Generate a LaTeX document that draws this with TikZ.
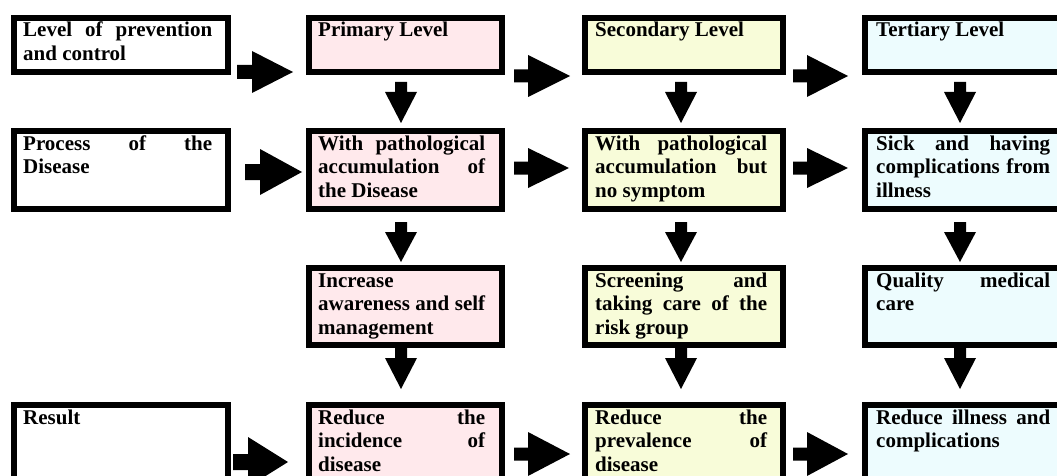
\documentclass[tikz,border=0pt]{standalone}
\usepackage{fontspec}
\setmainfont{Liberation Serif}
\usetikzlibrary{positioning}
\definecolor{pinkc}{RGB}{255,233,236}
\definecolor{yelc}{RGB}{248,252,217}
\definecolor{cyanc}{RGB}{237,252,254}
\newcommand\boxtext[2]{\vtop{\hsize=#1pt\parindent=0pt\leftskip=0pt\rightskip=0pt\parfillskip=0pt plus 1fil\tolerance=10000\hyphenpenalty=10000\exhyphenpenalty=10000\bfseries\fontsize{21}{23.5}\selectfont #2\par}}
\newcommand\harrow[6]{\fill[black] (#1,#4-#5) -- (#2,#4-#5) -- (#2,#4-#6) -- (#3,#4) -- (#2,#4+#6) -- (#2,#4+#5) -- (#1,#4+#5) -- cycle;}
\newcommand\varrow[4]{\fill[black] (#1-6,#2) -- (#1-6,#3) -- (#1-16,#3) -- (#1,#4) -- (#1+16,#3) -- (#1+6,#3) -- (#1+6,#2) -- cycle;}
\tikzset{
  boxnode/.style={draw=black, line width=6pt, rectangle, inner sep=0pt, anchor=north west},
  txtnode/.style={inner sep=0pt, anchor=base west, text=black}
}
\begin{document}
\begin{tikzpicture}[x=1pt,y=-1pt]
\useasboundingbox (0,0) rectangle (1057,476);
\clip (0,0) rectangle (1057,476);
% column 1
\node[boxnode, fill=white, minimum width=214pt, minimum height=54pt] (c1r1) at (11,15) {};
\node[boxnode, fill=white, minimum width=214pt, minimum height=78pt] (c1r2) at (11,128) {};
\node[boxnode, fill=white, minimum width=214pt, minimum height=130pt] (c1r4) at (11,402) {};
% primary
\node[boxnode, fill=pinkc, minimum width=193pt, minimum height=54pt] (p1) at (306,15) {};
\node[boxnode, fill=pinkc, minimum width=193pt, minimum height=78pt] (p2) at (306,128) {};
\node[boxnode, fill=pinkc, minimum width=193pt, minimum height=77pt] (p3) at (306,265) {};
\node[boxnode, fill=pinkc, minimum width=193pt, minimum height=130pt] (p4) at (306,402) {};
% secondary
\node[boxnode, fill=yelc, minimum width=198pt, minimum height=54pt] (s1) at (582,15) {};
\node[boxnode, fill=yelc, minimum width=198pt, minimum height=78pt] (s2) at (582,128) {};
\node[boxnode, fill=yelc, minimum width=198pt, minimum height=77pt] (s3) at (582,265) {};
\node[boxnode, fill=yelc, minimum width=198pt, minimum height=130pt] (s4) at (582,402) {};
% tertiary
\node[boxnode, fill=cyanc, minimum width=204pt, minimum height=54pt] (t1) at (862,15) {};
\node[boxnode, fill=cyanc, minimum width=204pt, minimum height=78pt] (t2) at (862,128) {};
\node[boxnode, fill=cyanc, minimum width=204pt, minimum height=77pt] (t3) at (862,265) {};
\node[boxnode, fill=cyanc, minimum width=204pt, minimum height=130pt] (t4) at (862,402) {};
% texts
\node[txtnode] (c1r1t) at (23,37) {\boxtext{189}{Level of prevention\linebreak and control}};
\node[txtnode] (c1r2t) at (23,150) {\boxtext{189}{Process of the\linebreak Disease}};
\node[txtnode] (c1r4t) at (23,424) {\boxtext{189}{Result}};
\node[txtnode] (p1t) at (318,37) {\boxtext{167}{Primary Level}};
\node[txtnode] (p2t) at (318,150) {\boxtext{167}{With pathological\linebreak accumulation of\linebreak the Disease}};
\node[txtnode] (p3t) at (318,287) {\boxtext{167}{Increase\linebreak awareness and self\linebreak management}};
\node[txtnode] (p4t) at (318,424) {\boxtext{167}{Reduce the\linebreak incidence of\linebreak disease}};
\node[txtnode] (s1t) at (595,37) {\boxtext{172}{Secondary Level}};
\node[txtnode] (s2t) at (595,150) {\boxtext{172}{With pathological\linebreak accumulation but\linebreak no symptom}};
\node[txtnode] (s3t) at (595,287) {\boxtext{172}{Screening and\linebreak taking care of the\linebreak risk group}};
\node[txtnode] (s4t) at (595,424) {\boxtext{172}{Reduce the\linebreak prevalence of\linebreak disease}};
\node[txtnode] (t1t) at (876,37) {\boxtext{174}{Tertiary Level}};
\node[txtnode] (t2t) at (876,150) {\boxtext{174}{Sick and having\linebreak complications from\linebreak illness}};
\node[txtnode] (t3t) at (876,287) {\boxtext{174}{Quality medical\linebreak care}};
\node[txtnode] (t4t) at (876,424) {\boxtext{174}{Reduce illness and\linebreak complications}};
% horizontal arrows
\harrow{237}{252}{293}{72}{7}{21}
\harrow{514}{528}{570}{76}{6.5}{21}
\harrow{793}{807}{848}{76}{6.5}{21}
\harrow{245}{260}{302}{172}{8}{23}
\harrow{514}{528}{569}{168}{6.5}{20}
\harrow{793}{807}{848}{168}{6.5}{20}
\harrow{233}{248}{288}{462}{8}{25}
\harrow{514}{528}{570}{454}{6.5}{22}
\harrow{793}{807}{848}{454}{6.5}{22}
% vertical arrows
\varrow{401}{82}{92}{123}
\varrow{401}{222}{232}{262}
\varrow{401}{347}{358}{389}
\varrow{681}{82}{92}{123}
\varrow{681}{222}{232}{262}
\varrow{681}{347}{358}{389}
\varrow{960}{82}{92}{123}
\varrow{960}{222}{232}{262}
\varrow{960}{347}{358}{389}
\end{tikzpicture}
\end{document}
